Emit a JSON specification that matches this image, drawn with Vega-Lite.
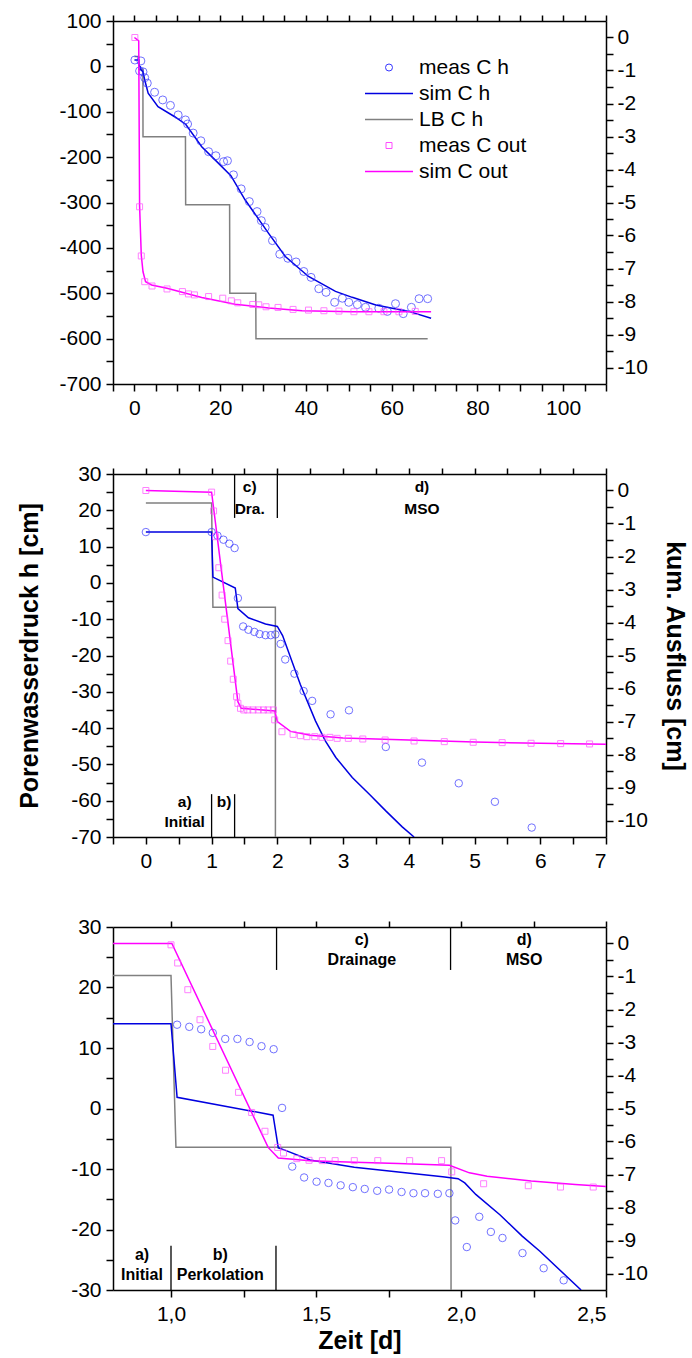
{
  "$schema": "https://vega.github.io/schema/vega-lite/v6.json",
  "padding": {"left": 17, "top": 10, "right": 5, "bottom": 5},
  "spacing": 45,
  "config": {
    "font": "Liberation Sans",
    "view": {"stroke": null},
    "axis": {"labelFont": "Liberation Sans", "labelFontSize": 21, "labelColor": "black", "domainColor": "black", "domainWidth": 1.5, "tickColor": "black", "tickWidth": 1.5, "tickSize": 7, "ticks": true, "grid": false, "titleFont": "Liberation Sans", "titleFontWeight": "bold", "titleFontSize": 25, "titleColor": "black", "labelPadding": 4},
    "axisBottom": {"labelPadding": 6},
    "legend": {"labelFont": "Liberation Sans"}
  },
  "datasets": {
    "p1": [
      {"s": "meas C h", "t": 0.1, "y": 14}, {"s": "meas C h", "t": 1.5, "y": 12}, {"s": "meas C h", "t": 1.2, "y": -10}, {"s": "meas C h", "t": 2.0, "y": -12}, {"s": "meas C h", "t": 2.4, "y": -25}, {"s": "meas C h", "t": 3.0, "y": -37}, {"s": "meas C h", "t": 4.7, "y": -57}, {"s": "meas C h", "t": 6.6, "y": -74}, {"s": "meas C h", "t": 8.4, "y": -86}, {"s": "meas C h", "t": 10.2, "y": -107}, {"s": "meas C h", "t": 11.9, "y": -118}, {"s": "meas C h", "t": 12.4, "y": -127}, {"s": "meas C h", "t": 13.7, "y": -147}, {"s": "meas C h", "t": 15.5, "y": -164}, {"s": "meas C h", "t": 17.3, "y": -188}, {"s": "meas C h", "t": 19.0, "y": -197}, {"s": "meas C h", "t": 20.8, "y": -210}, {"s": "meas C h", "t": 21.7, "y": -208}, {"s": "meas C h", "t": 23.1, "y": -239}, {"s": "meas C h", "t": 24.9, "y": -270}, {"s": "meas C h", "t": 26.8, "y": -298}, {"s": "meas C h", "t": 28.6, "y": -320}, {"s": "meas C h", "t": 29.6, "y": -340}, {"s": "meas C h", "t": 30.5, "y": -355}, {"s": "meas C h", "t": 32.2, "y": -384}, {"s": "meas C h", "t": 33.9, "y": -414}, {"s": "meas C h", "t": 35.8, "y": -423}, {"s": "meas C h", "t": 37.7, "y": -431}, {"s": "meas C h", "t": 39.5, "y": -452}, {"s": "meas C h", "t": 41.2, "y": -465}, {"s": "meas C h", "t": 43.0, "y": -490}, {"s": "meas C h", "t": 44.7, "y": -498}, {"s": "meas C h", "t": 46.7, "y": -520}, {"s": "meas C h", "t": 48.5, "y": -511}, {"s": "meas C h", "t": 50.0, "y": -520}, {"s": "meas C h", "t": 52.0, "y": -525}, {"s": "meas C h", "t": 53.9, "y": -531}, {"s": "meas C h", "t": 57.0, "y": -533}, {"s": "meas C h", "t": 59.0, "y": -540}, {"s": "meas C h", "t": 60.9, "y": -523}, {"s": "meas C h", "t": 62.7, "y": -545}, {"s": "meas C h", "t": 64.6, "y": -531}, {"s": "meas C h", "t": 66.4, "y": -512}, {"s": "meas C h", "t": 68.4, "y": -512},
      {"s": "sim C h", "t": 0, "y": 14}, {"s": "sim C h", "t": 1.0, "y": 14}, {"s": "sim C h", "t": 1.05, "y": 2}, {"s": "sim C h", "t": 1.4, "y": -1}, {"s": "sim C h", "t": 1.45, "y": -7}, {"s": "sim C h", "t": 2.0, "y": -12}, {"s": "sim C h", "t": 2.4, "y": -30}, {"s": "sim C h", "t": 3.2, "y": -59}, {"s": "sim C h", "t": 5.5, "y": -89}, {"s": "sim C h", "t": 9.4, "y": -111}, {"s": "sim C h", "t": 12.0, "y": -128}, {"s": "sim C h", "t": 15.7, "y": -177}, {"s": "sim C h", "t": 18.8, "y": -206}, {"s": "sim C h", "t": 22.5, "y": -241}, {"s": "sim C h", "t": 25.8, "y": -294}, {"s": "sim C h", "t": 31.3, "y": -368}, {"s": "sim C h", "t": 35.2, "y": -419}, {"s": "sim C h", "t": 40.6, "y": -463}, {"s": "sim C h", "t": 46.9, "y": -496}, {"s": "sim C h", "t": 50.8, "y": -509}, {"s": "sim C h", "t": 56.3, "y": -526}, {"s": "sim C h", "t": 64.0, "y": -540}, {"s": "sim C h", "t": 69.2, "y": -555},
      {"s": "LB C h", "t": 0, "y": 22}, {"s": "LB C h", "t": 1.0, "y": 22}, {"s": "LB C h", "t": 1.02, "y": -6.5}, {"s": "LB C h", "t": 1.97, "y": -6.5}, {"s": "LB C h", "t": 2.0, "y": -155}, {"s": "LB C h", "t": 11.9, "y": -155}, {"s": "LB C h", "t": 11.95, "y": -305}, {"s": "LB C h", "t": 22.2, "y": -305}, {"s": "LB C h", "t": 22.25, "y": -500}, {"s": "LB C h", "t": 28.3, "y": -500}, {"s": "LB C h", "t": 28.35, "y": -600}, {"s": "LB C h", "t": 68.4, "y": -600},
      {"s": "meas C out", "t": 0.1, "y": 0}, {"s": "meas C out", "t": 1.2, "y": -5.13}, {"s": "meas C out", "t": 1.6, "y": -6.62}, {"s": "meas C out", "t": 2.4, "y": -7.4}, {"s": "meas C out", "t": 4.1, "y": -7.53}, {"s": "meas C out", "t": 7.6, "y": -7.62}, {"s": "meas C out", "t": 11.2, "y": -7.7}, {"s": "meas C out", "t": 12.6, "y": -7.77}, {"s": "meas C out", "t": 14.0, "y": -7.8}, {"s": "meas C out", "t": 17.3, "y": -7.85}, {"s": "meas C out", "t": 20.6, "y": -7.9}, {"s": "meas C out", "t": 22.6, "y": -7.98}, {"s": "meas C out", "t": 24.1, "y": -8.04}, {"s": "meas C out", "t": 27.6, "y": -8.09}, {"s": "meas C out", "t": 29.0, "y": -8.1}, {"s": "meas C out", "t": 30.7, "y": -8.16}, {"s": "meas C out", "t": 33.5, "y": -8.18}, {"s": "meas C out", "t": 37.0, "y": -8.24}, {"s": "meas C out", "t": 40.6, "y": -8.26}, {"s": "meas C out", "t": 44.2, "y": -8.28}, {"s": "meas C out", "t": 47.7, "y": -8.29}, {"s": "meas C out", "t": 51.2, "y": -8.31}, {"s": "meas C out", "t": 54.7, "y": -8.31}, {"s": "meas C out", "t": 58.2, "y": -8.31}, {"s": "meas C out", "t": 61.7, "y": -8.31}, {"s": "meas C out", "t": 65.5, "y": -8.3},
      {"s": "sim C out", "t": 0, "y": 0}, {"s": "sim C out", "t": 1.0, "y": -0.1}, {"s": "sim C out", "t": 1.2, "y": -5.1}, {"s": "sim C out", "t": 1.6, "y": -6.6}, {"s": "sim C out", "t": 2.0, "y": -7.1}, {"s": "sim C out", "t": 2.6, "y": -7.4}, {"s": "sim C out", "t": 4.0, "y": -7.5}, {"s": "sim C out", "t": 7.6, "y": -7.6}, {"s": "sim C out", "t": 15.7, "y": -7.88}, {"s": "sim C out", "t": 23.5, "y": -8.08}, {"s": "sim C out", "t": 31.3, "y": -8.2}, {"s": "sim C out", "t": 39.1, "y": -8.28}, {"s": "sim C out", "t": 50.8, "y": -8.31}, {"s": "sim C out", "t": 69.2, "y": -8.31}
    ],
    "p2": [
      {"s": "meas C h", "t": 0, "y": 14}, {"s": "meas C h", "t": 1.0, "y": 14}, {"s": "meas C h", "t": 1.09, "y": 13.0}, {"s": "meas C h", "t": 1.18, "y": 11.9}, {"s": "meas C h", "t": 1.27, "y": 10.8}, {"s": "meas C h", "t": 1.35, "y": 9.6}, {"s": "meas C h", "t": 1.4, "y": -4.2}, {"s": "meas C h", "t": 1.48, "y": -12}, {"s": "meas C h", "t": 1.56, "y": -12.9}, {"s": "meas C h", "t": 1.65, "y": -13.5}, {"s": "meas C h", "t": 1.73, "y": -14.1}, {"s": "meas C h", "t": 1.82, "y": -14.4}, {"s": "meas C h", "t": 1.9, "y": -14.4}, {"s": "meas C h", "t": 1.97, "y": -14.2}, {"s": "meas C h", "t": 2.05, "y": -16.8}, {"s": "meas C h", "t": 2.12, "y": -21.1}, {"s": "meas C h", "t": 2.26, "y": -25}, {"s": "meas C h", "t": 2.4, "y": -29.8}, {"s": "meas C h", "t": 2.53, "y": -32.5}, {"s": "meas C h", "t": 2.81, "y": -36.2}, {"s": "meas C h", "t": 3.09, "y": -35.1}, {"s": "meas C h", "t": 3.65, "y": -45.2}, {"s": "meas C h", "t": 4.2, "y": -49.5}, {"s": "meas C h", "t": 4.76, "y": -55.2}, {"s": "meas C h", "t": 5.31, "y": -60.3}, {"s": "meas C h", "t": 5.87, "y": -67.4},
      {"s": "sim C h", "t": 0, "y": 14}, {"s": "sim C h", "t": 1.0, "y": 14}, {"s": "sim C h", "t": 1.02, "y": 1.6}, {"s": "sim C h", "t": 1.36, "y": -1.4}, {"s": "sim C h", "t": 1.4, "y": -7.1}, {"s": "sim C h", "t": 1.56, "y": -9.6}, {"s": "sim C h", "t": 1.82, "y": -11.3}, {"s": "sim C h", "t": 2.0, "y": -12}, {"s": "sim C h", "t": 2.08, "y": -14.5}, {"s": "sim C h", "t": 2.35, "y": -28}, {"s": "sim C h", "t": 2.58, "y": -38}, {"s": "sim C h", "t": 2.73, "y": -43.5}, {"s": "sim C h", "t": 2.89, "y": -48.1}, {"s": "sim C h", "t": 3.14, "y": -53.6}, {"s": "sim C h", "t": 3.4, "y": -58.2}, {"s": "sim C h", "t": 3.65, "y": -62.8}, {"s": "sim C h", "t": 3.9, "y": -67.2}, {"s": "sim C h", "t": 4.08, "y": -70},
      {"s": "LB C h", "t": 0, "y": 22}, {"s": "LB C h", "t": 1.0, "y": 22}, {"s": "LB C h", "t": 1.02, "y": -6.7}, {"s": "LB C h", "t": 1.97, "y": -6.7}, {"s": "LB C h", "t": 1.971, "y": -80},
      {"s": "meas C out", "t": 0, "y": 0}, {"s": "meas C out", "t": 1.0, "y": -0.05}, {"s": "meas C out", "t": 1.03, "y": -0.62}, {"s": "meas C out", "t": 1.06, "y": -1.4}, {"s": "meas C out", "t": 1.11, "y": -2.34}, {"s": "meas C out", "t": 1.16, "y": -3.17}, {"s": "meas C out", "t": 1.2, "y": -3.9}, {"s": "meas C out", "t": 1.25, "y": -4.55}, {"s": "meas C out", "t": 1.29, "y": -5.17}, {"s": "meas C out", "t": 1.33, "y": -5.72}, {"s": "meas C out", "t": 1.38, "y": -6.25}, {"s": "meas C out", "t": 1.4, "y": -6.45}, {"s": "meas C out", "t": 1.44, "y": -6.6}, {"s": "meas C out", "t": 1.49, "y": -6.65}, {"s": "meas C out", "t": 1.55, "y": -6.65}, {"s": "meas C out", "t": 1.63, "y": -6.65}, {"s": "meas C out", "t": 1.71, "y": -6.65}, {"s": "meas C out", "t": 1.79, "y": -6.65}, {"s": "meas C out", "t": 1.86, "y": -6.65}, {"s": "meas C out", "t": 1.94, "y": -6.65}, {"s": "meas C out", "t": 1.96, "y": -6.95}, {"s": "meas C out", "t": 2.07, "y": -7.31}, {"s": "meas C out", "t": 2.24, "y": -7.39}, {"s": "meas C out", "t": 2.35, "y": -7.43}, {"s": "meas C out", "t": 2.45, "y": -7.46}, {"s": "meas C out", "t": 2.57, "y": -7.46}, {"s": "meas C out", "t": 2.68, "y": -7.48}, {"s": "meas C out", "t": 2.8, "y": -7.48}, {"s": "meas C out", "t": 2.91, "y": -7.51}, {"s": "meas C out", "t": 3.08, "y": -7.51}, {"s": "meas C out", "t": 3.3, "y": -7.53}, {"s": "meas C out", "t": 3.64, "y": -7.56}, {"s": "meas C out", "t": 4.08, "y": -7.59}, {"s": "meas C out", "t": 4.54, "y": -7.61}, {"s": "meas C out", "t": 4.98, "y": -7.63}, {"s": "meas C out", "t": 5.42, "y": -7.64}, {"s": "meas C out", "t": 5.86, "y": -7.66}, {"s": "meas C out", "t": 6.31, "y": -7.67}, {"s": "meas C out", "t": 6.75, "y": -7.68},
      {"s": "sim C out", "t": 0, "y": 0}, {"s": "sim C out", "t": 1.0, "y": -0.05}, {"s": "sim C out", "t": 1.4, "y": -6.4}, {"s": "sim C out", "t": 1.45, "y": -6.6}, {"s": "sim C out", "t": 1.96, "y": -6.68}, {"s": "sim C out", "t": 2.0, "y": -7.0}, {"s": "sim C out", "t": 2.2, "y": -7.3}, {"s": "sim C out", "t": 2.5, "y": -7.42}, {"s": "sim C out", "t": 3.0, "y": -7.5}, {"s": "sim C out", "t": 4.0, "y": -7.56}, {"s": "sim C out", "t": 5.0, "y": -7.62}, {"s": "sim C out", "t": 6.0, "y": -7.66}, {"s": "sim C out", "t": 7.0, "y": -7.69}
    ],
    "p3": [
      {"s": "meas C h", "t": 1.021, "y": 13.85}, {"s": "meas C h", "t": 1.063, "y": 13.5}, {"s": "meas C h", "t": 1.104, "y": 13.1}, {"s": "meas C h", "t": 1.144, "y": 12.5}, {"s": "meas C h", "t": 1.187, "y": 11.5}, {"s": "meas C h", "t": 1.229, "y": 11.5}, {"s": "meas C h", "t": 1.271, "y": 11.0}, {"s": "meas C h", "t": 1.312, "y": 10.3}, {"s": "meas C h", "t": 1.354, "y": 9.8}, {"s": "meas C h", "t": 1.383, "y": 0.1}, {"s": "meas C h", "t": 1.418, "y": -9.6}, {"s": "meas C h", "t": 1.459, "y": -11.4}, {"s": "meas C h", "t": 1.502, "y": -12.1}, {"s": "meas C h", "t": 1.543, "y": -12.3}, {"s": "meas C h", "t": 1.585, "y": -12.7}, {"s": "meas C h", "t": 1.627, "y": -13.0}, {"s": "meas C h", "t": 1.668, "y": -13.3}, {"s": "meas C h", "t": 1.711, "y": -13.6}, {"s": "meas C h", "t": 1.752, "y": -13.4}, {"s": "meas C h", "t": 1.795, "y": -13.8}, {"s": "meas C h", "t": 1.836, "y": -14.0}, {"s": "meas C h", "t": 1.876, "y": -14.0}, {"s": "meas C h", "t": 1.92, "y": -14.1}, {"s": "meas C h", "t": 1.96, "y": -14.0}, {"s": "meas C h", "t": 1.98, "y": -18.5}, {"s": "meas C h", "t": 2.02, "y": -22.9}, {"s": "meas C h", "t": 2.063, "y": -17.9}, {"s": "meas C h", "t": 2.103, "y": -20.4}, {"s": "meas C h", "t": 2.143, "y": -21.4}, {"s": "meas C h", "t": 2.212, "y": -23.9}, {"s": "meas C h", "t": 2.285, "y": -26.4}, {"s": "meas C h", "t": 2.354, "y": -28.4},
      {"s": "sim C h", "t": 0.8, "y": 14}, {"s": "sim C h", "t": 1.0, "y": 14}, {"s": "sim C h", "t": 1.021, "y": 1.85}, {"s": "sim C h", "t": 1.352, "y": -1.1}, {"s": "sim C h", "t": 1.37, "y": -6.5}, {"s": "sim C h", "t": 1.388, "y": -6.8}, {"s": "sim C h", "t": 1.479, "y": -8.5}, {"s": "sim C h", "t": 1.632, "y": -9.7}, {"s": "sim C h", "t": 1.784, "y": -10.5}, {"s": "sim C h", "t": 1.937, "y": -11.3}, {"s": "sim C h", "t": 1.99, "y": -11.6}, {"s": "sim C h", "t": 2.013, "y": -12.3}, {"s": "sim C h", "t": 2.051, "y": -14.2}, {"s": "sim C h", "t": 2.135, "y": -17.6}, {"s": "sim C h", "t": 2.211, "y": -21.1}, {"s": "sim C h", "t": 2.272, "y": -23.6}, {"s": "sim C h", "t": 2.414, "y": -30},
      {"s": "LB C h", "t": 0.8, "y": 22}, {"s": "LB C h", "t": 1.0, "y": 22}, {"s": "LB C h", "t": 1.017, "y": -6.4}, {"s": "LB C h", "t": 1.965, "y": -6.4}, {"s": "LB C h", "t": 1.966, "y": -40},
      {"s": "meas C out", "t": 1.0, "y": -0.04}, {"s": "meas C out", "t": 1.023, "y": -0.59}, {"s": "meas C out", "t": 1.058, "y": -1.4}, {"s": "meas C out", "t": 1.1, "y": -2.31}, {"s": "meas C out", "t": 1.144, "y": -3.12}, {"s": "meas C out", "t": 1.188, "y": -3.84}, {"s": "meas C out", "t": 1.233, "y": -4.51}, {"s": "meas C out", "t": 1.278, "y": -5.12}, {"s": "meas C out", "t": 1.324, "y": -5.69}, {"s": "meas C out", "t": 1.368, "y": -6.18}, {"s": "meas C out", "t": 1.388, "y": -6.35}, {"s": "meas C out", "t": 1.434, "y": -6.52}, {"s": "meas C out", "t": 1.476, "y": -6.57}, {"s": "meas C out", "t": 1.522, "y": -6.58}, {"s": "meas C out", "t": 1.566, "y": -6.58}, {"s": "meas C out", "t": 1.632, "y": -6.58}, {"s": "meas C out", "t": 1.713, "y": -6.58}, {"s": "meas C out", "t": 1.823, "y": -6.58}, {"s": "meas C out", "t": 1.933, "y": -6.58}, {"s": "meas C out", "t": 1.968, "y": -6.92}, {"s": "meas C out", "t": 2.078, "y": -7.28}, {"s": "meas C out", "t": 2.232, "y": -7.34}, {"s": "meas C out", "t": 2.343, "y": -7.38}, {"s": "meas C out", "t": 2.456, "y": -7.38},
      {"s": "sim C out", "t": 0.8, "y": 0}, {"s": "sim C out", "t": 1.003, "y": 0}, {"s": "sim C out", "t": 1.335, "y": -6.18}, {"s": "sim C out", "t": 1.37, "y": -6.5}, {"s": "sim C out", "t": 1.479, "y": -6.58}, {"s": "sim C out", "t": 1.632, "y": -6.63}, {"s": "sim C out", "t": 1.784, "y": -6.67}, {"s": "sim C out", "t": 1.96, "y": -6.72}, {"s": "sim C out", "t": 2.029, "y": -6.95}, {"s": "sim C out", "t": 2.09, "y": -7.05}, {"s": "sim C out", "t": 2.242, "y": -7.2}, {"s": "sim C out", "t": 2.394, "y": -7.3}, {"s": "sim C out", "t": 2.5, "y": -7.36}
    ],
    "rules2": [{"t": 1.0, "a": -70, "b": -58.2}, {"t": 1.35, "a": -70, "b": -58.2}, {"t": 1.35, "a": 30, "b": 17.9}, {"t": 2.0, "a": 30, "b": 17.9}],
    "text2": [{"t": 0.59, "y": -60.4, "label": "a)"}, {"t": 0.59, "y": -65.9, "label": "Initial"}, {"t": 1.19, "y": -60.4, "label": "b)"}, {"t": 1.58, "y": 26.4, "label": "c)"}, {"t": 1.58, "y": 20.4, "label": "Dra."}, {"t": 4.2, "y": 26.3, "label": "d)"}, {"t": 4.2, "y": 20.4, "label": "MSO"}],
    "rules3": [{"t": 1.0, "a": -30, "b": -22.7}, {"t": 1.362, "a": -30, "b": -22.7}, {"t": 1.364, "a": 30, "b": 22.9}, {"t": 1.964, "a": 30, "b": 22.9}],
    "text3": [{"t": 0.9, "y": -24.2, "label": "a)"}, {"t": 0.9, "y": -27.5, "label": "Initial"}, {"t": 1.17, "y": -24.2, "label": "b)"}, {"t": 1.17, "y": -27.5, "label": "Perkolation"}, {"t": 1.658, "y": 27.9, "label": "c)"}, {"t": 1.658, "y": 24.6, "label": "Drainage"}, {"t": 2.218, "y": 27.9, "label": "d)"}, {"t": 2.218, "y": 24.6, "label": "MSO"}]
  },
  "vconcat": [
    {
      "width": 493, "height": 363,
      "encoding": {
        "color": {"field": "s", "type": "nominal",
          "scale": {"domain": ["meas C h", "sim C h", "LB C h", "meas C out", "sim C out"], "range": ["#3535ff", "#0000e0", "#808080", "#ff4dff", "#ff00ff"]},
          "legend": {"orient": "none", "legendX": 252, "legendY": 36, "title": null, "labelFontSize": 21, "labelColor": "black", "symbolSize": 49, "labelOffset": 33, "rowPadding": 4,
            "encode": {"symbols": {"update": {
              "shape": {"signal": "datum.value === 'meas C h' ? 'circle' : datum.value === 'meas C out' ? 'square' : 'stroke'"},
              "size": {"signal": "datum.value === 'meas C h' ? 49 : datum.value === 'meas C out' ? 36 : 2304"},
              "x": {"value": 24},
              "fill": {"value": "transparent"},
              "strokeWidth": {"signal": "datum.value === 'meas C h' || datum.value === 'meas C out' ? 1 : 1.5"}
            }}}}
        }
      },
      "layer": [
        {
          "encoding": {
            "x": {"field": "t", "type": "quantitative", "scale": {"domain": [-5, 110], "nice": false, "zero": false},
              "axis": {"title": null, "values": [-5, 0, 5, 10, 15, 20, 25, 30, 35, 40, 45, 50, 55, 60, 65, 70, 75, 80, 85, 90, 95, 100, 105, 110],
                "labelExpr": "datum.value % 10 === 0 ? '' + datum.value : ''",
                "encode": {"ticks": {"update": {"y2": {"signal": "datum.value % 10 === 0 ? 7 : 4"}}}}}},
            "y": {"field": "y", "type": "quantitative", "scale": {"domain": [-700, 100], "nice": false, "zero": false},
              "axis": {"title": null, "orient": "left", "values": [-700, -650, -600, -550, -500, -450, -400, -350, -300, -250, -200, -150, -100, -50, 0, 50, 100],
                "labelExpr": "datum.value % 100 === 0 ? '' + datum.value : ''", "labelPadding": 5,
                "encode": {"ticks": {"update": {"x2": {"signal": "datum.value % 100 === 0 ? -7 : -4"}}}}}}
          },
          "layer": [
            {"data": {"name": "p1"}, "transform": [{"filter": "datum.s === 'LB C h'"}], "mark": {"type": "line", "strokeWidth": 1.5}, "encoding": {}},
            {"data": {"name": "p1"}, "transform": [{"filter": "datum.s === 'sim C h'"}], "mark": {"type": "line", "strokeWidth": 1.5}, "encoding": {}},
            {"data": {"name": "p1"}, "transform": [{"filter": "datum.s === 'meas C h'"}], "mark": {"type": "point", "shape": "circle", "filled": false, "size": 64, "strokeWidth": 1}}
          ]
        },
        {
          "encoding": {
            "x": {"field": "t", "type": "quantitative", "scale": {"domain": [-5, 110], "nice": false, "zero": false},
              "axis": {"orient": "top", "title": null, "labels": false, "tickSize": 6, "values": [-5, 0, 5, 10, 15, 20, 25, 30, 35, 40, 45, 50, 55, 60, 65, 70, 75, 80, 85, 90, 95, 100, 105, 110],
                "encode": {"ticks": {"update": {"y2": {"signal": "datum.value % 10 === 0 ? 6 : 4"}}}}}},
            "y": {"field": "y", "type": "quantitative", "scale": {"domain": [-10.5, 0.5], "nice": false, "zero": false},
              "axis": {"title": null, "orient": "right", "values": [-10, -9.5, -9, -8.5, -8, -7.5, -7, -6.5, -6, -5.5, -5, -4.5, -4, -3.5, -3, -2.5, -2, -1.5, -1, -0.5, 0],
                "labelExpr": "datum.value % 1 === 0 ? '' + datum.value : ''",
                "encode": {"ticks": {"update": {"x2": {"signal": "datum.value % 1 === 0 ? 7 : 4"}}}}}}
          },
          "layer": [
            {"data": {"name": "p1"}, "transform": [{"filter": "datum.s === 'sim C out'"}], "mark": {"type": "line", "strokeWidth": 1.5}, "encoding": {}},
            {"data": {"name": "p1"}, "transform": [{"filter": "datum.s === 'meas C out'"}], "mark": {"type": "point", "shape": "square", "filled": false, "size": 36, "strokeWidth": 1}}
          ]
        }
      ],
      "resolve": {"scale": {"y": "independent"}, "axis": {"x": "independent"}}
    },
    {
      "width": 493, "height": 363,
      "layer": [
        {
          "encoding": {
            "x": {"field": "t", "type": "quantitative", "scale": {"domain": [-0.5, 7], "nice": false, "zero": false},
              "axis": {"title": null, "values": [-0.5, 0, 0.5, 1, 1.5, 2, 2.5, 3, 3.5, 4, 4.5, 5, 5.5, 6, 6.5, 7],
                "labelExpr": "datum.value % 1 === 0 ? '' + datum.value : ''",
                "encode": {"ticks": {"update": {"y2": {"signal": "datum.value % 1 === 0 ? 7 : 4"}}}}}},
            "y": {"field": "y", "type": "quantitative", "scale": {"domain": [-70, 30], "nice": false, "zero": false},
              "axis": {"title": "Porenwasserdruck h [cm]", "orient": "left", "titlePadding": 28, "values": [-70, -65, -60, -55, -50, -45, -40, -35, -30, -25, -20, -15, -10, -5, 0, 5, 10, 15, 20, 25, 30],
                "labelExpr": "datum.value % 10 === 0 ? '' + datum.value : ''", "labelPadding": 5,
                "encode": {"ticks": {"update": {"x2": {"signal": "datum.value % 10 === 0 ? -7 : -4"}}}}}}
          },
          "layer": [
            {"data": {"name": "p2"}, "transform": [{"filter": "datum.s === 'LB C h'"}], "mark": {"type": "line", "strokeWidth": 1.5, "color": "#808080", "clip": true}, "encoding": {}},
            {"data": {"name": "p2"}, "transform": [{"filter": "datum.s === 'sim C h'"}], "mark": {"type": "line", "strokeWidth": 1.5, "color": "#0000e0", "clip": true}, "encoding": {}},
            {"data": {"name": "p2"}, "transform": [{"filter": "datum.s === 'meas C h'"}], "mark": {"type": "point", "shape": "circle", "filled": false, "size": 56, "strokeWidth": 1, "color": "#3535ff", "clip": true}},
            {"data": {"name": "rules2"}, "mark": {"type": "rule", "color": "black", "strokeWidth": 1.3}, "encoding": {"y": {"field": "a", "type": "quantitative"}, "y2": {"field": "b"}}},
            {"data": {"name": "text2"}, "mark": {"type": "text", "fontWeight": "bold", "fontSize": 15.5, "color": "black", "baseline": "middle", "align": "center"}, "encoding": {"text": {"field": "label"}}}
          ]
        },
        {
          "encoding": {
            "x": {"field": "t", "type": "quantitative", "scale": {"domain": [-0.5, 7], "nice": false, "zero": false},
              "axis": {"orient": "top", "title": null, "labels": false, "tickSize": 6, "values": [-0.5, 0, 0.5, 1, 1.5, 2, 2.5, 3, 3.5, 4, 4.5, 5, 5.5, 6, 6.5, 7],
                "encode": {"ticks": {"update": {"y2": {"signal": "datum.value % 1 === 0 ? 6 : 4"}}}}}},
            "y": {"field": "y", "type": "quantitative", "scale": {"domain": [-10.5, 0.5], "nice": false, "zero": false},
              "axis": {"title": "kum. Ausfluss [cm]", "titlePadding": 14, "orient": "right", "values": [-10, -9.5, -9, -8.5, -8, -7.5, -7, -6.5, -6, -5.5, -5, -4.5, -4, -3.5, -3, -2.5, -2, -1.5, -1, -0.5, 0],
                "labelExpr": "datum.value % 1 === 0 ? '' + datum.value : ''",
                "encode": {"ticks": {"update": {"x2": {"signal": "datum.value % 1 === 0 ? 7 : 4"}}}}}}
          },
          "layer": [
            {"data": {"name": "p2"}, "transform": [{"filter": "datum.s === 'sim C out'"}], "mark": {"type": "line", "strokeWidth": 1.5, "color": "#ff00ff", "clip": true}, "encoding": {}},
            {"data": {"name": "p2"}, "transform": [{"filter": "datum.s === 'meas C out'"}], "mark": {"type": "point", "shape": "square", "filled": false, "size": 36, "strokeWidth": 1, "color": "#ff4dff", "clip": true}}
          ]
        }
      ],
      "resolve": {"scale": {"y": "independent"}, "axis": {"x": "independent"}}
    },
    {
      "width": 493, "height": 363,
      "layer": [
        {
          "encoding": {
            "x": {"field": "t", "type": "quantitative", "scale": {"domain": [0.8, 2.5], "nice": false, "zero": false},
              "axis": {"title": "Zeit [d]", "titlePadding": 4, "values": [1, 1.25, 1.5, 1.75, 2, 2.25, 2.5],
                "labelExpr": "datum.value * 2 === round(datum.value * 2) ? replace(format(datum.value, '.1f'), '.', ',') : ''",
                "encode": {"ticks": {"update": {"y2": {"signal": "datum.value * 2 === round(datum.value * 2) ? 7 : 4"}}}}}},
            "y": {"field": "y", "type": "quantitative", "scale": {"domain": [-30, 30], "nice": false, "zero": false},
              "axis": {"title": null, "orient": "left", "values": [-30, -25, -20, -15, -10, -5, 0, 5, 10, 15, 20, 25, 30],
                "labelExpr": "datum.value % 10 === 0 ? '' + datum.value : ''", "labelPadding": 5,
                "encode": {"ticks": {"update": {"x2": {"signal": "datum.value % 10 === 0 ? -7 : -4"}}}}}}
          },
          "layer": [
            {"data": {"name": "p3"}, "transform": [{"filter": "datum.s === 'LB C h'"}], "mark": {"type": "line", "strokeWidth": 1.5, "color": "#808080", "clip": true}, "encoding": {}},
            {"data": {"name": "p3"}, "transform": [{"filter": "datum.s === 'sim C h'"}], "mark": {"type": "line", "strokeWidth": 1.5, "color": "#0000e0", "clip": true}, "encoding": {}},
            {"data": {"name": "p3"}, "transform": [{"filter": "datum.s === 'meas C h'"}], "mark": {"type": "point", "shape": "circle", "filled": false, "size": 56, "strokeWidth": 1, "color": "#3535ff", "clip": true}},
            {"data": {"name": "rules3"}, "mark": {"type": "rule", "color": "black", "strokeWidth": 1.3}, "encoding": {"y": {"field": "a", "type": "quantitative"}, "y2": {"field": "b"}}},
            {"data": {"name": "text3"}, "mark": {"type": "text", "fontWeight": "bold", "fontSize": 16, "color": "black", "baseline": "middle", "align": "center"}, "encoding": {"text": {"field": "label"}}}
          ]
        },
        {
          "encoding": {
            "x": {"field": "t", "type": "quantitative", "scale": {"domain": [0.8, 2.5], "nice": false, "zero": false},
              "axis": {"orient": "top", "title": null, "labels": false, "tickSize": 6, "values": [1, 1.25, 1.5, 1.75, 2, 2.25, 2.5],
                "encode": {"ticks": {"update": {"y2": {"signal": "datum.value * 2 === round(datum.value * 2) ? 6 : 4"}}}}}},
            "y": {"field": "y", "type": "quantitative", "scale": {"domain": [-10.5, 0.5], "nice": false, "zero": false},
              "axis": {"title": null, "orient": "right", "values": [-10, -9.5, -9, -8.5, -8, -7.5, -7, -6.5, -6, -5.5, -5, -4.5, -4, -3.5, -3, -2.5, -2, -1.5, -1, -0.5, 0],
                "labelExpr": "datum.value % 1 === 0 ? '' + datum.value : ''",
                "encode": {"ticks": {"update": {"x2": {"signal": "datum.value % 1 === 0 ? 7 : 4"}}}}}}
          },
          "layer": [
            {"data": {"name": "p3"}, "transform": [{"filter": "datum.s === 'sim C out'"}], "mark": {"type": "line", "strokeWidth": 1.5, "color": "#ff00ff", "clip": true}, "encoding": {}},
            {"data": {"name": "p3"}, "transform": [{"filter": "datum.s === 'meas C out'"}], "mark": {"type": "point", "shape": "square", "filled": false, "size": 36, "strokeWidth": 1, "color": "#ff4dff", "clip": true}}
          ]
        }
      ],
      "resolve": {"scale": {"y": "independent"}, "axis": {"x": "independent"}}
    }
  ]
}
